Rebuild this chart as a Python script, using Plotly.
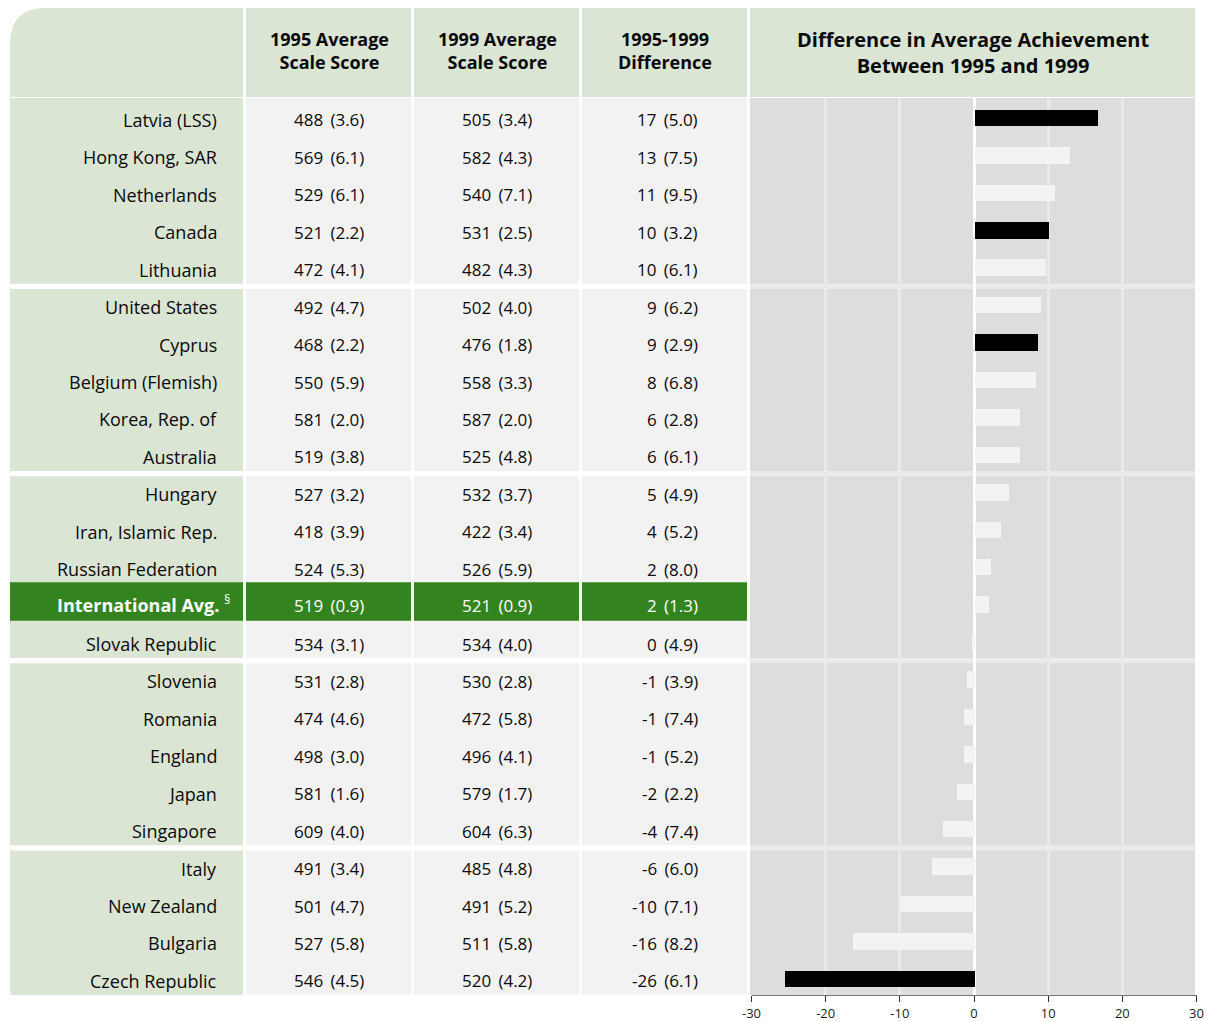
import plotly.graph_objects as go

# ---- data ----
countries = ["Latvia (LSS)", "Hong Kong, SAR", "Netherlands", "Canada", "Lithuania",
             "United States", "Cyprus", "Belgium (Flemish)", "Korea, Rep. of", "Australia",
             "Hungary", "Iran, Islamic Rep.", "Russian Federation", "International Avg.", "Slovak Republic",
             "Slovenia", "Romania", "England", "Japan", "Singapore",
             "Italy", "New Zealand", "Bulgaria", "Czech Republic"]
score_1995 = [488, 569, 529, 521, 472, 492, 468, 550, 581, 519, 527, 418,
              524, 519, 534, 531, 474, 498, 581, 609, 491, 501, 527, 546]
se_1995 = [3.6, 6.1, 6.1, 2.2, 4.1, 4.7, 2.2, 5.9, 2.0, 3.8, 3.2, 3.9,
           5.3, 0.9, 3.1, 2.8, 4.6, 3.0, 1.6, 4.0, 3.4, 4.7, 5.8, 4.5]
score_1999 = [505, 582, 540, 531, 482, 502, 476, 558, 587, 525, 532, 422,
              526, 521, 534, 530, 472, 496, 579, 604, 485, 491, 511, 520]
se_1999 = [3.4, 4.3, 7.1, 2.5, 4.3, 4.0, 1.8, 3.3, 2.0, 4.8, 3.7, 3.4,
           5.9, 0.9, 4.0, 2.8, 5.8, 4.1, 1.7, 6.3, 4.8, 5.2, 5.8, 4.2]
diff_rounded = [17, 13, 11, 10, 10, 9, 9, 8, 6, 6, 5, 4,
                2, 2, 0, -1, -1, -1, -2, -4, -6, -10, -16, -26]
se_diff = [5.0, 7.5, 9.5, 3.2, 6.1, 6.2, 2.9, 6.8, 2.8, 6.1, 4.9, 5.2,
           8.0, 1.3, 4.9, 3.9, 7.4, 5.2, 2.2, 7.4, 6.0, 7.1, 8.2, 6.1]
# bar lengths (unrounded, estimated from the bars)
diff_bar = [16.6, 12.9, 10.8, 10.1, 9.7, 9.0, 8.6, 8.3, 6.2, 6.2, 4.7, 3.6,
            2.2, 1.9, -0.3, -1.0, -1.4, -1.4, -2.4, -4.2, -5.7, -10.0, -16.4, -25.5]
significant = [True, False, False, True, False, False, True, False, False, False, False, False,
               False, False, False, False, False, False, False, False, False, False, False, True]
group_sizes = [5, 5, 5, 5, 4]
intl_label = "International Avg."
x_ticks = [-30, -20, -10, 0, 10, 20, 30]

# ---- page geometry helpers ----
W, H = 1207, 1021
FONT = "Open Sans"
HEADER_GREEN = "#dbe5d4"
CELL_GREY = "#f2f2f2"
INTL_GREEN = "#33841f"
TEXT = "#0a0a0a"


def px(x):
    return x / W


def py(y):
    return 1 - y / H


rows = list(range(len(countries)))
y_top, y_bot = -0.534, 23.43
gap = 0.07

# column edges in pixels
cols = [(10, 243), (246, 411), (414, 579), (582, 747)]
chart_x = (750, 1195)

fig = go.Figure()

bar_colors = ["#000000" if s else "#f3f3f3" for s in significant]
fig.add_trace(go.Bar(
    x=diff_bar, y=rows, orientation="h",
    marker=dict(color=bar_colors, line=dict(width=0)),
    width=0.44, hoverinfo="skip", showlegend=False,
))

shapes = []
# header cells
r = 36
x0, x1 = px(cols[0][0]), px(cols[0][1])
yt, yb = py(8), py(97)
shapes.append(dict(
    type="path", xref="paper", yref="paper", layer="below",
    path=(f"M {x0},{yb} L {x0},{py(8 + r)} Q {x0},{yt} {px(cols[0][0] + r)},{yt} "
          f"L {x1},{yt} L {x1},{yb} Z"),
    fillcolor=HEADER_GREEN, line=dict(width=0)))
for (a, b) in cols[1:] + [chart_x]:
    shapes.append(dict(type="rect", xref="paper", yref="paper", layer="below",
                       x0=px(a), x1=px(b), y0=yb, y1=yt,
                       fillcolor=HEADER_GREEN, line=dict(width=0)))

# chart background (separator colour underneath)
shapes.append(dict(type="rect", xref="paper", yref="y", layer="below",
                   x0=px(chart_x[0]), x1=px(chart_x[1]), y0=y_top, y1=y_bot,
                   fillcolor="#ebebeb", line=dict(width=0)))

# group bands
start = 0
for gi, n in enumerate(group_sizes):
    first, last = start, start + n - 1
    g0 = y_top if gi == 0 else first - 0.5 + gap
    g1 = y_bot if gi == len(group_sizes) - 1 else last + 0.5 - gap
    for ci, (a, b) in enumerate(cols + [chart_x]):
        if ci == 0:
            color = HEADER_GREEN
        elif ci == len(cols):
            color = "#dddddd"
        else:
            color = CELL_GREY
        shapes.append(dict(type="rect", xref="paper", yref="y", layer="below",
                           x0=px(a), x1=px(b), y0=g0, y1=g1,
                           fillcolor=color, line=dict(width=0)))
    start += n

# international average band
intl_row = countries.index(intl_label)
for (a, b) in cols:
    shapes.append(dict(type="rect", xref="paper", yref="y", layer="below",
                       x0=px(a), x1=px(b), y0=intl_row - 0.6, y1=intl_row + 0.43,
                       fillcolor=INTL_GREEN, line=dict(width=0)))

annotations = []
# header text
head_font = dict(family=FONT, size=18, color=TEXT)
for x, t in [(329, "<b>1995 Average</b><br><b>Scale Score</b>"),
             (497, "<b>1999 Average</b><br><b>Scale Score</b>"),
             (665, "<b>1995-1999</b><br><b>Difference</b>")]:
    annotations.append(dict(xref="paper", yref="paper", x=px(x), y=py(51), text=t,
                            showarrow=False, xanchor="center", yanchor="middle",
                            font=head_font))
annotations.append(dict(xref="paper", yref="paper", x=px(973), y=py(52),
                        text="<b>Difference in Average Achievement</b><br><b>Between 1995 and 1999</b>",
                        showarrow=False, xanchor="center", yanchor="middle",
                        font=dict(family=FONT, size=20, color=TEXT)))

# table rows
for i in rows:
    is_intl = countries[i] == intl_label
    color = "#ffffff" if is_intl else TEXT
    name_font = dict(family=FONT, size=18, color=color)
    num_font = dict(family=FONT, size=17, color=color)
    if is_intl:
        label = f"<b>{countries[i]}</b>\u00a0<sup>§</sup>"
        lx, shift, lshift = 233, -1, 1
    else:
        label = countries[i]
        lx, shift, lshift = 219, -2, -2
    annotations.append(dict(xref="paper", yref="y", x=px(lx), y=i, text=label, yshift=lshift,
                            showarrow=False, xanchor="right", yanchor="middle", font=name_font))
    annotations.append(dict(xref="paper", yref="y", x=px(329), y=i, yshift=shift,
                            text=f"{score_1995[i]}\u2009 ({se_1995[i]:.1f})",
                            showarrow=False, xanchor="center", yanchor="middle", font=num_font))
    annotations.append(dict(xref="paper", yref="y", x=px(497), y=i, yshift=shift,
                            text=f"{score_1999[i]}\u2009 ({se_1999[i]:.1f})",
                            showarrow=False, xanchor="center", yanchor="middle", font=num_font))
    annotations.append(dict(xref="paper", yref="y", x=px(700), y=i, yshift=shift,
                            text=f"{diff_rounded[i]}\u2009 ({se_diff[i]:.1f})",
                            showarrow=False, xanchor="right", yanchor="middle", font=num_font))

fig.update_layout(
    width=W, height=H,
    margin=dict(l=0, r=0, t=0, b=0, autoexpand=False),
    paper_bgcolor="white",
    plot_bgcolor="rgba(0,0,0,0)",
    font=dict(family=FONT, color=TEXT),
    shapes=shapes,
    annotations=annotations,
    bargap=0,
    xaxis=dict(
        domain=[px(751.5), px(1196.5)],
        range=[-30, 30],
        tickvals=x_ticks,
        ticktext=[str(v) for v in x_ticks],
        ticks="outside", ticklen=6, tickcolor="#333333", tickwidth=1,
        tickfont=dict(family=FONT, size=13, color="#222222"),
        showgrid=True, gridcolor="#e9e9e9", gridwidth=3,
        zeroline=True, zerolinecolor="#ffffff", zerolinewidth=3,
        showline=True, linecolor="#777777", linewidth=1,
        fixedrange=True,
    ),
    yaxis=dict(
        domain=[py(995), py(98)],
        range=[y_bot, y_top],
        showticklabels=False, showgrid=False, zeroline=False, ticks="",
        fixedrange=True,
    ),
)

# the page body has a default 8px margin; drop it so the figure sits at the page origin
fig.write_html("out.html", config={"displayModeBar": False},
               post_script="document.body.style.margin='0px';")
